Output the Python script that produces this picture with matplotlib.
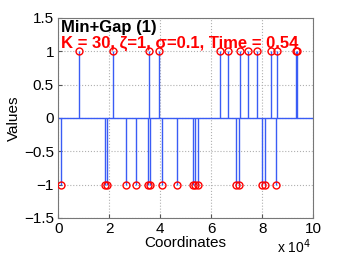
import numpy as np
import matplotlib.pyplot as plt
from matplotlib.ticker import FuncFormatter

plt.rcParams['font.family'] = ['Liberation Sans', 'DejaVu Sans']

# spike locations (coordinates) and signs
pos_idx = [8200, 21600, 35600, 39500, 63300, 66800, 71200, 74600,
           77900, 83300, 85800, 93300, 93800]
neg_idx = [1050, 18500, 19300, 26500, 30400, 35200, 35900, 40600,
           46700, 52900, 53800, 54900, 69900, 71100, 80000, 81100, 85500]
coords = np.array(pos_idx + neg_idx)
values = np.array([1.0] * len(pos_idx) + [-1.0] * len(neg_idx))

title1 = 'Min+Gap (1)'
title2 = 'K = 30, ζ=1, σ=0.1, Time = 0.54'

blue = '#3a5cf5'

fig = plt.figure(figsize=(3.46, 2.6), dpi=100)
ax = fig.add_axes([0.168, 0.162, 0.737, 0.769])

ax.axhline(0, color=blue, lw=1.0, zorder=2)
ax.vlines(coords, 0, values, color=blue, lw=1.0, zorder=2)
ax.plot(coords, values, 'o', ms=5, mfc='none', mec='red', mew=1.0, zorder=3)

ax.set_xlim(0, 100000)
ax.set_ylim(-1.5, 1.5)
ax.set_xticks(np.arange(0, 100001, 20000))
ax.set_yticks([-1.5, -1, -0.5, 0, 0.5, 1, 1.5])
ax.xaxis.set_major_formatter(FuncFormatter(lambda v, p: f'{v / 1e4:g}'))
ax.yaxis.set_major_formatter(FuncFormatter(lambda v, p: f'{v:g}'.replace('-', '\u2212')))
ax.grid(True, ls=':', color='#b0b0b0', lw=0.8)
ax.tick_params(direction='in', length=3, labelsize=11, color='#555555', pad=3)
for s in ax.spines.values():
    s.set_color('#777777')

ax.set_xlabel('Coordinates', fontsize=11, labelpad=0)
ax.set_ylabel('Values', fontsize=11, labelpad=2)
fig.text(0.80, 0.025, 'x 10$^4$', fontsize=10)

ax.text(0.012, 0.99, title1, transform=ax.transAxes, fontsize=12,
        fontweight='bold', va='top', ha='left')
ax.text(0.012, 0.91, title2, transform=ax.transAxes, fontsize=12,
        fontweight='bold', color='red', va='top', ha='left')

fig.savefig('out.png', dpi=100)
